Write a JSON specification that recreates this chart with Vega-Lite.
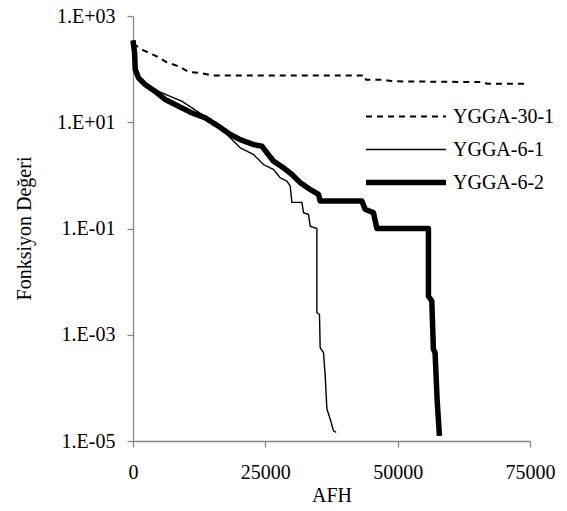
{
  "$schema": "https://vega.github.io/schema/vega-lite/v6.json",
  "width": 397,
  "height": 425,
  "autosize": {"type": "none"},
  "padding": {"left": 133, "top": 16, "right": 37, "bottom": 70},
  "background": "white",
  "config": {
    "font": "Liberation Serif",
    "view": {"stroke": null},
    "axis": {
      "grid": false,
      "domainColor": "#868686",
      "domainWidth": 1.3,
      "tickColor": "#868686",
      "tickWidth": 1.3,
      "tickSize": 6,
      "labelFlush": false,
      "labelFont": "Liberation Serif",
      "labelFontSize": 20,
      "labelColor": "black",
      "titleFont": "Liberation Serif",
      "titleFontSize": 20,
      "titleFontWeight": "normal",
      "titleColor": "black"
    },
    "legend": {
      "labelFont": "Liberation Serif",
      "labelFontSize": 20,
      "labelColor": "black"
    }
  },
  "data": {
    "values": [
      {"series": "YGGA-30-1", "x": 0, "y": 300},
      {"series": "YGGA-30-1", "x": 2000, "y": 225},
      {"series": "YGGA-30-1", "x": 4500, "y": 174},
      {"series": "YGGA-30-1", "x": 6400, "y": 134},
      {"series": "YGGA-30-1", "x": 8600, "y": 113},
      {"series": "YGGA-30-1", "x": 10500, "y": 89},
      {"series": "YGGA-30-1", "x": 12700, "y": 85},
      {"series": "YGGA-30-1", "x": 14900, "y": 76},
      {"series": "YGGA-30-1", "x": 43800, "y": 76},
      {"series": "YGGA-30-1", "x": 44000, "y": 63},
      {"series": "YGGA-30-1", "x": 47300, "y": 63},
      {"series": "YGGA-30-1", "x": 49100, "y": 59},
      {"series": "YGGA-30-1", "x": 66100, "y": 57},
      {"series": "YGGA-30-1", "x": 66900, "y": 53},
      {"series": "YGGA-30-1", "x": 74450, "y": 53},

      {"series": "YGGA-6-1", "x": 0, "y": 348},
      {"series": "YGGA-6-1", "x": 300, "y": 202},
      {"series": "YGGA-6-1", "x": 430, "y": 98},
      {"series": "YGGA-6-1", "x": 1060, "y": 68},
      {"series": "YGGA-6-1", "x": 2320, "y": 51},
      {"series": "YGGA-6-1", "x": 4210, "y": 41},
      {"series": "YGGA-6-1", "x": 5480, "y": 35.7},
      {"series": "YGGA-6-1", "x": 9250, "y": 24.8},
      {"series": "YGGA-6-1", "x": 11140, "y": 18.7},
      {"series": "YGGA-6-1", "x": 13650, "y": 12.8},
      {"series": "YGGA-6-1", "x": 16160, "y": 8.4},
      {"series": "YGGA-6-1", "x": 18370, "y": 5.1},
      {"series": "YGGA-6-1", "x": 20260, "y": 3.3},
      {"series": "YGGA-6-1", "x": 22770, "y": 2.47},
      {"series": "YGGA-6-1", "x": 24660, "y": 1.6},
      {"series": "YGGA-6-1", "x": 26550, "y": 1.29},
      {"series": "YGGA-6-1", "x": 27810, "y": 0.9},
      {"series": "YGGA-6-1", "x": 29080, "y": 0.78},
      {"series": "YGGA-6-1", "x": 29700, "y": 0.63},
      {"series": "YGGA-6-1", "x": 30020, "y": 0.31},
      {"series": "YGGA-6-1", "x": 31910, "y": 0.31},
      {"series": "YGGA-6-1", "x": 32210, "y": 0.198},
      {"series": "YGGA-6-1", "x": 33150, "y": 0.184},
      {"series": "YGGA-6-1", "x": 33480, "y": 0.11},
      {"series": "YGGA-6-1", "x": 34740, "y": 0.1},
      {"series": "YGGA-6-1", "x": 34740, "y": 0.0026},
      {"series": "YGGA-6-1", "x": 35230, "y": 0.0024},
      {"series": "YGGA-6-1", "x": 35360, "y": 0.00057},
      {"series": "YGGA-6-1", "x": 35990, "y": 0.00046},
      {"series": "YGGA-6-1", "x": 36310, "y": 0.000168},
      {"series": "YGGA-6-1", "x": 36630, "y": 0.00004},
      {"series": "YGGA-6-1", "x": 37250, "y": 0.000026},
      {"series": "YGGA-6-1", "x": 37870, "y": 0.0000156},
      {"series": "YGGA-6-1", "x": 38380, "y": 0.0000145},

      {"series": "YGGA-6-2", "x": 0, "y": 348},
      {"series": "YGGA-6-2", "x": 300, "y": 202},
      {"series": "YGGA-6-2", "x": 430, "y": 98},
      {"series": "YGGA-6-2", "x": 1060, "y": 68},
      {"series": "YGGA-6-2", "x": 2320, "y": 51},
      {"series": "YGGA-6-2", "x": 4210, "y": 38},
      {"series": "YGGA-6-2", "x": 6100, "y": 26.7},
      {"series": "YGGA-6-2", "x": 8610, "y": 20},
      {"series": "YGGA-6-2", "x": 11140, "y": 15},
      {"series": "YGGA-6-2", "x": 13650, "y": 12.1},
      {"series": "YGGA-6-2", "x": 16160, "y": 8.4},
      {"series": "YGGA-6-2", "x": 18370, "y": 5.9},
      {"series": "YGGA-6-2", "x": 20260, "y": 4.7},
      {"series": "YGGA-6-2", "x": 22770, "y": 3.8},
      {"series": "YGGA-6-2", "x": 24360, "y": 3.54},
      {"series": "YGGA-6-2", "x": 25300, "y": 2.66},
      {"series": "YGGA-6-2", "x": 26550, "y": 1.85},
      {"series": "YGGA-6-2", "x": 28430, "y": 1.39},
      {"series": "YGGA-6-2", "x": 30020, "y": 1.04},
      {"series": "YGGA-6-2", "x": 31590, "y": 0.73},
      {"series": "YGGA-6-2", "x": 33480, "y": 0.54},
      {"series": "YGGA-6-2", "x": 35040, "y": 0.44},
      {"series": "YGGA-6-2", "x": 35360, "y": 0.33},
      {"series": "YGGA-6-2", "x": 43240, "y": 0.33},
      {"series": "YGGA-6-2", "x": 43860, "y": 0.23},
      {"series": "YGGA-6-2", "x": 45430, "y": 0.198},
      {"series": "YGGA-6-2", "x": 46070, "y": 0.1},
      {"series": "YGGA-6-2", "x": 55810, "y": 0.1},
      {"series": "YGGA-6-2", "x": 55810, "y": 0.00536},
      {"series": "YGGA-6-2", "x": 56450, "y": 0.0043},
      {"series": "YGGA-6-2", "x": 56750, "y": 0.00053},
      {"series": "YGGA-6-2", "x": 57070, "y": 0.00046},
      {"series": "YGGA-6-2", "x": 57450, "y": 0.000061},
      {"series": "YGGA-6-2", "x": 57890, "y": 0.0000125}
    ]
  },
  "mark": {"type": "line", "color": "black", "strokeJoin": "round"},
  "encoding": {
    "x": {
      "field": "x",
      "type": "quantitative",
      "scale": {"domain": [0, 75000], "nice": false},
      "axis": {
        "values": [0, 25000, 50000, 75000],
        "format": "d",
        "title": "AFH",
        "labelPadding": 15,
        "titleBaseline": "top",
        "titleY": 44
      }
    },
    "y": {
      "field": "y",
      "type": "quantitative",
      "scale": {"type": "log", "domain": [0.00001, 1000], "nice": false},
      "axis": {
        "values": [0.00001, 0.001, 0.1, 10, 1000],
        "labelExpr": "'1.E' + (datum.value >= 1 ? '+' : '-') + '0' + abs(round(log(datum.value) / LN10))",
        "title": "Fonksiyon Değeri",
        "labelPadding": 12,
        "titleAngle": -90,
        "titleBaseline": "middle",
        "titleAlign": "center",
        "titleX": -109,
        "titleY": 212
      }
    },
    "order": {"value": null},
    "strokeDash": {
      "field": "series",
      "type": "ordinal",
      "scale": {
        "domain": ["YGGA-30-1", "YGGA-6-1", "YGGA-6-2"],
        "range": [[6, 5], [1, 0], [1, 0]]
      },
      "legend": {
        "title": null,
        "orient": "none",
        "legendX": 230,
        "legendY": 84,
        "symbolType": "stroke",
        "symbolSize": 6400,
        "symbolStrokeColor": "black",
        "clipHeight": 33,
        "rowPadding": 0,
        "labelOffset": 4
      }
    },
    "strokeWidth": {
      "field": "series",
      "type": "ordinal",
      "scale": {
        "type": "ordinal",
        "domain": ["YGGA-30-1", "YGGA-6-1", "YGGA-6-2"],
        "range": [2, 1.4, 5.5]
      },
      "legend": {
        "title": null,
        "orient": "none",
        "legendX": 230,
        "legendY": 84,
        "symbolType": "stroke",
        "symbolSize": 6400,
        "symbolStrokeColor": "black",
        "clipHeight": 33,
        "rowPadding": 0,
        "labelOffset": 4
      }
    }
  }
}
